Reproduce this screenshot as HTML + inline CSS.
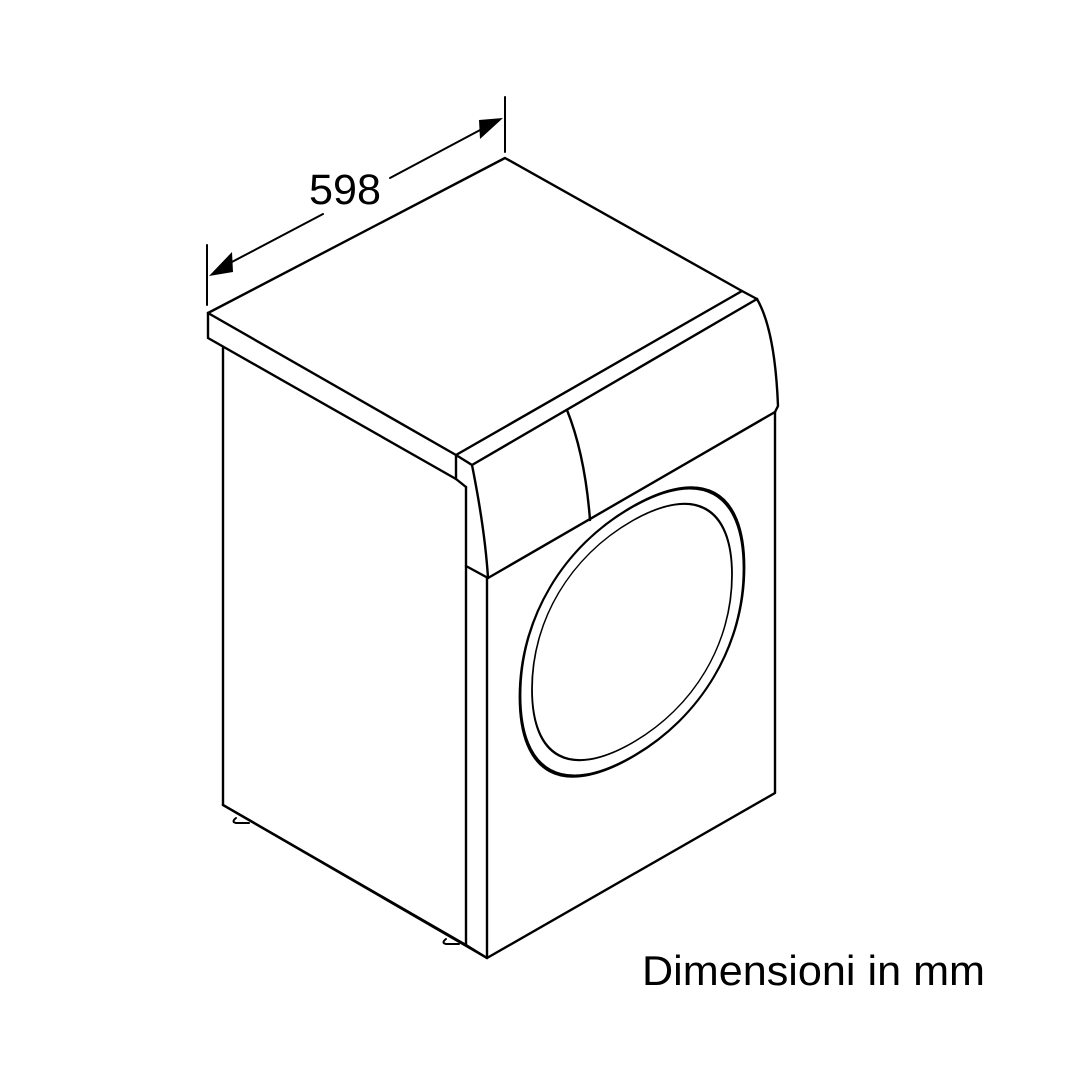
<!DOCTYPE html>
<html><head><meta charset="utf-8"><style>
html,body{margin:0;padding:0;background:#fff;}
svg{display:block;}
</style></head><body>
<svg width="1080" height="1080" viewBox="0 0 1080 1080" xmlns="http://www.w3.org/2000/svg">
<g fill="none" stroke="#000" stroke-width="2.4" stroke-linejoin="round" stroke-linecap="round">
  <path d="M208,313 L505,158 L742,291"/>
  <path d="M208,313 L456,455 L742,291 L757,299"/>
  <path d="M456,455 L472,465 L757,299"/>
  <path d="M208,313 L208,338 L456,479 L466,487"/>
  <path d="M456,455 L456,479"/>
  <path d="M757,299 Q775,330 778,406 L775,412"/>
  <path d="M472,465 Q485,530 488,578"/>
  <path d="M567,410 Q585,455 590,520"/>
  <path d="M466,566 L488,578 L775,412"/>
  <path d="M223,348 L223,805 L466,945"/>
  <path d="M466,487 L466,945 L487,958"/>
  <path d="M223,805 L487,958"/>
  <path d="M487,578 L487,958 L775,793 L775,412"/>
  <path d="M236,818 Q231,822 236,823 L249,823" stroke-width="2"/>
  <path d="M446,939 Q441,943 446,944 L459,944" stroke-width="2"/>
  <g transform="translate(632,632) skewY(-29.8)">
    <path d="M0,-125 C69.4,-125 112,-77.5 112,0 C112,77.5 69.4,125 0,125 C-69.4,125 -112,77.5 -112,0 C-112,-77.5 -69.4,-125 0,-125 Z" stroke-width="2.8"/>
    <path d="M0,-111 C62,-111 100,-68.8 100,0 C100,68.8 62,111 0,111 C-62,111 -100,68.8 -100,0 C-100,-68.8 -62,-111 0,-111 Z" stroke-width="1.8"/>
  </g>
  <path d="M207,245 L207,305" stroke-width="2"/>
  <path d="M505,97 L505,152" stroke-width="2"/>
  <path d="M230,263 L323,214" stroke-width="2"/>
  <path d="M390,178 L482,129" stroke-width="2"/>
</g>
<polygon points="209,276 232,252 233,272" fill="#000"/>
<polygon points="503,118 479,120 480,139" fill="#000"/>
<text x="309" y="204" font-family="Liberation Sans, Arial, sans-serif" font-size="43" fill="#000" textLength="72" lengthAdjust="spacingAndGlyphs">598</text>
<text x="642" y="985" font-family="Liberation Sans, Arial, sans-serif" font-size="42" fill="#000" textLength="343" lengthAdjust="spacingAndGlyphs">Dimensioni in mm</text>
</svg>
</body></html>
